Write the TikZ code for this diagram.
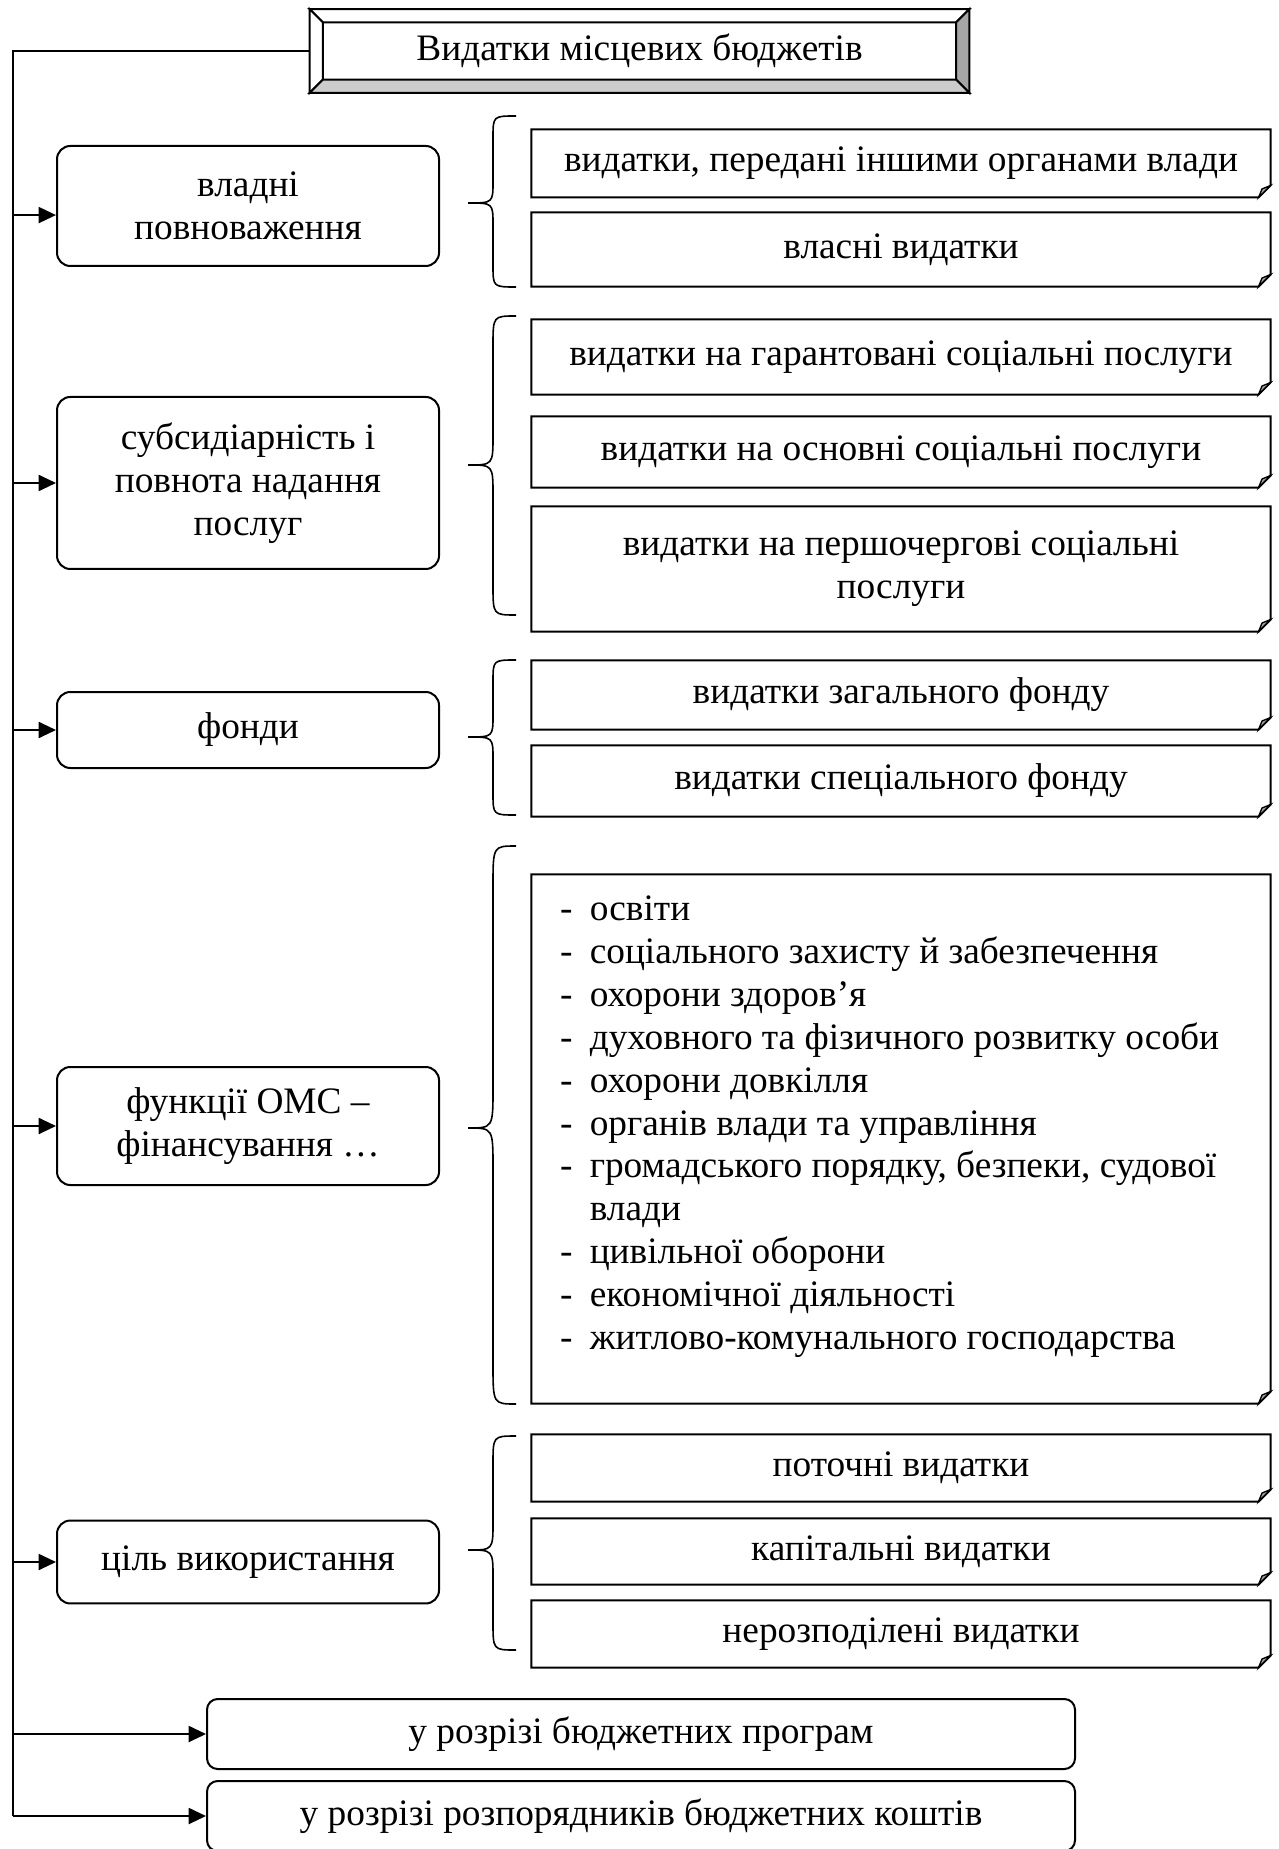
\documentclass[tikz,border=0pt]{standalone}
\usepackage{fontspec}
\setmainfont{Liberation Serif}
\usetikzlibrary{arrows.meta}

\begin{document}
\begin{tikzpicture}[x=0.375pt, y=-0.375pt,
        every node/.style = {font=\fontsize{14pt}{16.1pt}\selectfont, inner sep=0pt, align=center},
        lbox/.style = {draw, line width=0.75pt, rounded corners=5pt, minimum width=143.25pt},
        rbox/.style = {minimum width=276.75pt},
        bbox/.style = {draw, line width=0.75pt, rounded corners=4pt, minimum width=325.5pt, minimum height=26.25pt},
        arr/.style = {line width=0.75pt, -{Triangle[length=6.5pt, width=6pt]}},
        fold/.style = {line width=0.75pt},
        brc/.style = {line width=0.6pt}
    ]
        \useasboundingbox (0,0) rectangle (1278,1849);

        \node[minimum width=247pt, minimum height=31pt] (title) at (639.5,51) {Видатки місцевих бюджетів};
        \filldraw[line width=0.75pt, fill=white] (title.north west) -- (title.north east) -- ([shift={(-5pt,-5pt)}]title.north east) -- ([shift={(5pt,-5pt)}]title.north west) -- cycle;
        \filldraw[line width=0.75pt, fill=white] (title.north west) -- (title.south west) -- ([shift={(5pt,5pt)}]title.south west) -- ([shift={(5pt,-5pt)}]title.north west) -- cycle;
        \filldraw[line width=0.75pt, fill=black!35] (title.north east) -- (title.south east) -- ([shift={(-5pt,5pt)}]title.south east) -- ([shift={(-5pt,-5pt)}]title.north east) -- cycle;
        \filldraw[line width=0.75pt, fill=black!20] (title.south west) -- (title.south east) -- ([shift={(-5pt,5pt)}]title.south east) -- ([shift={(5pt,5pt)}]title.south west) -- cycle;

        \node[lbox, minimum height=45pt] (box1) at (248,206) {владні\\повноваження};
        \node[lbox, minimum height=64.5pt] (box2) at (248,483) {субсидіарність і\\повнота надання\\послуг};
        \node[lbox, minimum height=28.5pt] (box3) at (248,730) {фонди};
        \node[lbox, minimum height=44.25pt] (box4) at (248,1126) {функції ОМС –\\фінансування …};
        \node[lbox, minimum height=31.1pt] (box5) at (248,1562) {ціль використання};

        \node[rbox, minimum height=25.1pt] (r1) at (901,163.5) {видатки, передані іншими органами влади};
        \node[rbox, minimum height=27.4pt] (r2) at (901,249.5) {власні видатки};
        \node[rbox, minimum height=27.75pt] (r3) at (901,357) {видатки на гарантовані соціальні послуги};
        \node[rbox, minimum height=26.25pt] (r4) at (901,452) {видатки на основні соціальні послуги};
        \node[rbox, minimum height=46.5pt] (r5) at (901,569) {видатки на першочергові соціальні\\послуги};
        \node[rbox, minimum height=25.5pt] (r6) at (901,695) {видатки загального фонду};
        \node[rbox, minimum height=26.25pt] (r7) at (901,781) {видатки спеціального фонду};
        \node[rbox, minimum height=198pt] (r8) at (901,1139) {};
        \node[rbox, minimum height=24.75pt] (r9) at (901,1468) {поточні видатки};
        \node[rbox, minimum height=24.4pt] (r10) at (901,1551.5) {капітальні видатки};
        \node[rbox, minimum height=24.75pt] (r11) at (901,1634) {нерозподілені видатки};

        \node[anchor=west, align=left] (r8txt) at ([xshift=10.5pt, yshift=4.7pt]r8.west) {%
            \begin{tabular}{@{}l@{\hspace{6.5pt}}l@{}}
                - & освіти\\
                - & соціального захисту й забезпечення\\
                - & охорони здоров’я\\
                - & духовного та фізичного розвитку особи\\
                - & охорони довкілля\\
                - & органів влади та управління\\
                - & громадського порядку, безпеки, судової\\
                  & влади\\
                - & цивільної оборони\\
                - & економічної діяльності\\
                - & житлово-комунального господарства
            \end{tabular}};

        \foreach \n in {r1,r2,r3,r4,r5,r6,r7,r8,r9,r10,r11} {
            \draw[fold] (\n.north west) -- (\n.north east) -- ([yshift=4.5pt]\n.south east) -- ([xshift=-4.5pt]\n.south east) -- (\n.south west) -- cycle;
            \filldraw[line width=0.5pt, fill=black!35] ([yshift=4.5pt]\n.south east) -- ([xshift=-4.5pt]\n.south east) -- ([shift={(-3.2pt,3.2pt)}]\n.south east) -- cycle;
        }

        \foreach \t/\m/\b/\r in {116/203/287/22, 316/465/615/30, 660/737/815/22, 846/1128/1404/40, 1436/1550/1650/28}
            \draw[brc] (516,\t) .. controls (493,\t) .. (493,\t+\r) -- (493,\m-\r) .. controls (493,\m) .. (468,\m) .. controls (493,\m) .. (493,\m+\r) -- (493,\b-\r) .. controls (493,\b) .. (516,\b);

        \node[bbox] (bA) at (641,1734) {у розрізі бюджетних програм};
        \node[bbox] (bB) at (641,1816) {у розрізі розпорядників бюджетних коштів};

        \coordinate (trunk) at (13,0);
        \coordinate (a1) at ([yshift=-3.4pt]box1.west);
        \draw[line width=0.75pt] (title.west) -| (trunk |- bB.west);
        \draw[arr] (trunk |- a1) -- (a1);
        \foreach \n in {box2,box3,box4,box5,bA,bB}
            \draw[arr] (trunk |- \n.west) -- (\n.west);
    \end{tikzpicture}
\end{document}
